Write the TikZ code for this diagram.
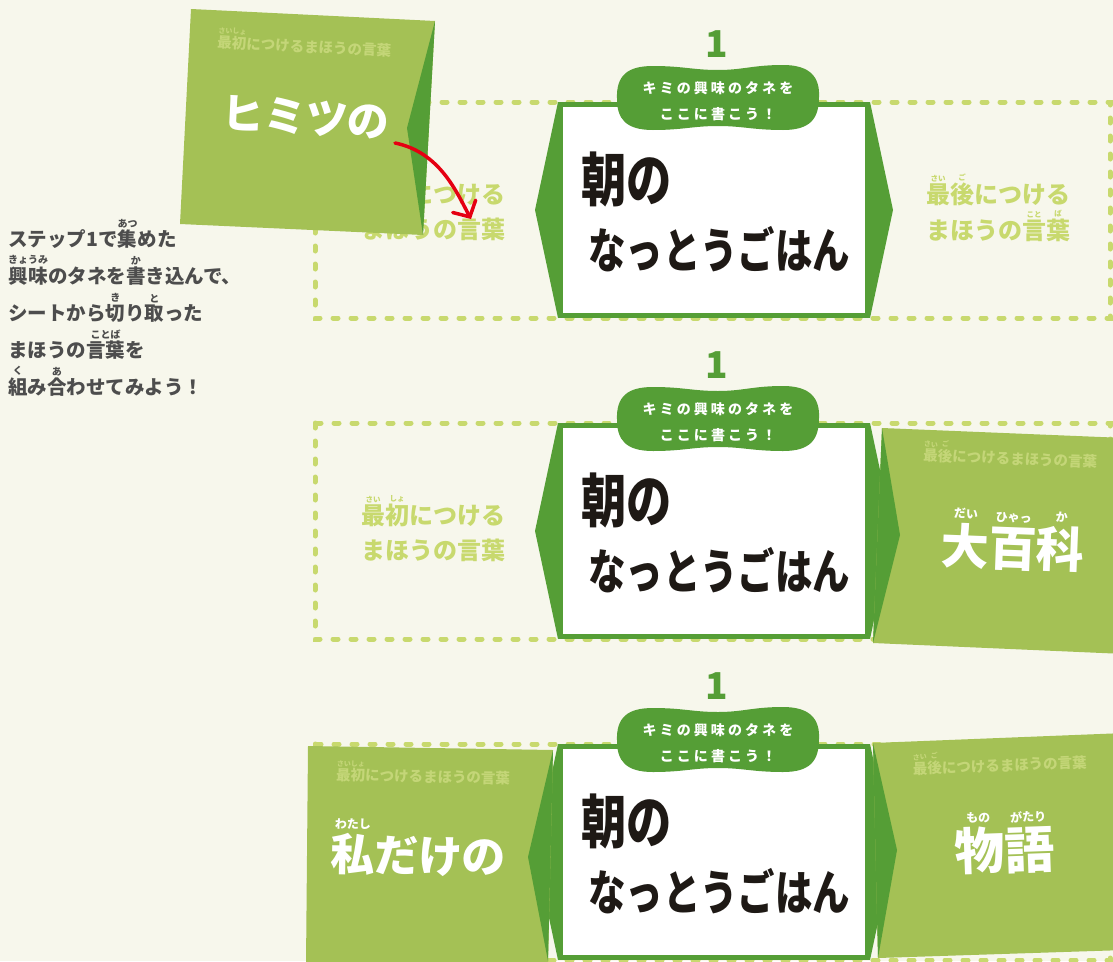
\documentclass[tikz,border=0pt]{standalone}
\usepackage{fontspec}
\usepackage{tikz}
\usetikzlibrary{calc,arrows.meta}
\newfontfamily\jp{Noto Sans CJK JP}
\newfontfamily\jpwide{Noto Sans CJK JP}[LetterSpace=22]
\newfontfamily\jphand{Noto Sans CJK JP}[FakeStretch=0.78]
\definecolor{seedbg}{HTML}{F7F7EC}
\definecolor{seedgreen}{HTML}{559E36}
\definecolor{cardgreen}{HTML}{A4C155}
\definecolor{cardtext}{HTML}{C4D678}
\definecolor{dashgreen}{HTML}{C8D96E}
\definecolor{notegray}{HTML}{4D4D4D}
\definecolor{inkblack}{HTML}{1E1915}
\definecolor{arrowred}{HTML}{E50012}
\def\rubysize{10pt}
\def\rubygap{1pt}
\newcommand\rb[2]{\leavevmode\vbox{\offinterlineskip\halign{\hfil##\hfil\cr\fontsize{\rubysize}{\rubysize}\selectfont#2\cr\noalign{\kern\rubygap}#1\cr}}}
\tikzset{
  dashframe/.style={draw=dashgreen, line width=5pt, line cap=round, dash pattern=on 5pt off 13pt},
  seedbox/.style={draw=seedgreen, line width=5pt, fill=white, minimum width=307pt, minimum height=211pt, inner sep=0},
  seedtag/.style={text=white, align=center, inner sep=0, font=\jpwide\bfseries\fontsize{14}{26}\selectfont},
  seednum/.style={text=seedgreen, inner sep=0, font=\jp\bfseries\fontsize{37}{37}\selectfont},
  seedword/.style={text=inkblack, anchor=base west, inner sep=0, font=\jphand\bfseries\fontsize{48}{48}\selectfont},
  hintword/.style={text=dashgreen, align=center, anchor=north, inner sep=0, font=\jp\bfseries\fontsize{24}{35.5}\selectfont\def\rubysize{7.5pt}\def\rubygap{2pt}},
  cardlabel/.style={text=cardtext, anchor=base, inner sep=0, font=\jp\bfseries\fontsize{14.5}{14.5}\selectfont\def\rubysize{7pt}\def\rubygap{1.5pt}},
  cardword/.style={text=white, anchor=base, inner sep=0, font=\jp\bfseries\fontsize{#1}{#1}\selectfont\def\rubysize{12pt}\def\rubygap{4pt}},
  note/.style={text=notegray, anchor=base west, inner sep=0, font=\jp\bfseries\fontsize{19.5}{19.5}\selectfont\def\rubysize{10pt}\def\rubygap{1.5pt}},
  seedarrow/.style={draw=arrowred, line width=3.5pt, line cap=round, -{Straight Barb[length=12pt, width=26pt, line cap=round]}}
}
\def\seedrow#1#2{%
  \begin{scope}[yshift=-#2pt]
    \draw[dashframe] (315,102) rectangle (1110,318);
    \node[seedbox] (box#1) at (714,210) {};
    \fill[seedgreen] (box#1.north west) -- ($(box#1.west)+(-23,0)$) -- (box#1.south west) -- cycle;
    \fill[seedgreen] (box#1.north east) -- ($(box#1.east)+(23,0)$) -- (box#1.south east) -- cycle;
    \fill[seedgreen, shift={(718,97)}] (-101,2) .. controls (-102,-22) and (-90,-31) .. (-65,-31)
      .. controls (-35,-31) and (-25,-27) .. (0,-27) .. controls (25,-27) and (35,-32) .. (65,-32)
      .. controls (92,-32) and (102,-20) .. (101,0) .. controls (101,22) and (92,33) .. (65,33)
      .. controls (35,33) and (25,29) .. (0,29) .. controls (-25,29) and (-35,33) .. (-65,33)
      .. controls (-92,33) and (-101,22) .. (-101,2) -- cycle;
    \node[seedtag] (tag#1) at (718,101) {キミの興味のタネを\\ここに書こう！};
    \node[seednum] (num#1) at (717,44) {1};
    \node[seedword, font=\jphand\bfseries\fontsize{58}{58}\selectfont] (morning#1) at (581,201) {朝の};
    \node[seedword] (dish#1) at (588,268) {なっとうごはん};
  \end{scope}}

\begin{document}
\begin{tikzpicture}[x=1pt, y=-1pt]
  \useasboundingbox (0,0) rectangle (1113,961);
  \fill[seedbg] (0,0) rectangle (1113,961);

  %%%%% ROWS %%%%%
  \seedrow{a}{0}
  \seedrow{b}{321}
  \seedrow{c}{642}

  \node[hintword] (hinta1) at (433,174) {\rb{最}{さい}\rb{初}{しょ}につける\\まほうの言葉};
  \node[hintword] (hinta2) at (998,174) {\rb{最}{さい}\rb{後}{ご}につける\\まほうの\rb{言}{こと}\rb{葉}{ば}};
  \node[hintword] (hintb1) at (433,495) {\rb{最}{さい}\rb{初}{しょ}につける\\まほうの言葉};

  %%%%% CARDS %%%%%
  \fill[cardgreen] (191,9) -- (435,21) -- (423,235) -- (180,224) -- cycle;
  \fill[seedgreen] (435,21) -- (407,128) -- (423,235) -- cycle;
  \node[cardlabel, rotate=-2.8] (leada) at (304,52) {\rb{最初}{さいしょ}につけるまほうの言葉};
  \node[cardword=42, rotate=-2.8] (worda) at (305,133) {ヒミツの};

  \fill[cardgreen] (882,428) -- (1125,438) -- (1125,654) -- (873,643) -- cycle;
  \fill[seedgreen] (882,428) -- (900,535) -- (873,643) -- cycle;
  \node[cardlabel, rotate=-2.2] (tailb) at (1010,464) {\rb{最}{さい}\rb{後}{ご}につけるまほうの言葉};
  \node[cardword=48, rotate=-2.2] (wordb) at (1012,566) {\rb{大}{だい}\rb{百}{ひゃっ}\rb{科}{か}};

  \fill[cardgreen] (308,746) -- (553,750) -- (548,965) -- (306,965) -- cycle;
  \fill[seedgreen] (553,750) -- (528,857) -- (548,961) -- cycle;
  \node[cardlabel, rotate=-1] (leadc) at (423,782) {\rb{最初}{さいしょ}につけるまほうの言葉};
  \node[cardword=44, rotate=-1] (wordc) at (418,872) {\rb{私}{わたし}だけの};

  \fill[cardgreen] (873,743) -- (1125,733) -- (1125,950) -- (878,958) -- cycle;
  \fill[seedgreen] (873,743) -- (897,850) -- (878,958) -- cycle;
  \node[cardlabel, rotate=2] (tailc) at (1000,771) {\rb{最}{さい}\rb{後}{ご}につけるまほうの言葉};
  \node[cardword=50, rotate=2] (wordc2) at (1005,869) {\rb{物}{もの}\rb{語}{がたり}};

  %%%%% NOTE %%%%%
  \node[note] (note1) at (8,246) {ステップ1で\rb{集}{あつ}めた};
  \node[note] (note2) at (8,283) {\rb{興味}{きょうみ}のタネを\rb{書}{か}き込んで、};
  \node[note] (note3) at (8,320) {シートから\rb{切}{き}り\rb{取}{と}った};
  \node[note] (note4) at (8,357) {まほうの\rb{言葉}{ことば}を};
  \node[note] (note5) at (8,394) {\rb{組}{く}み\rb{合}{あ}わせてみよう！};

  \coordinate (arrowfrom) at (395,143);
  \coordinate (arrowto) at (471,219);
  \draw[seedarrow] (arrowfrom) .. controls (440,152) and (457,193) .. (arrowto);
\end{tikzpicture}
\end{document}
